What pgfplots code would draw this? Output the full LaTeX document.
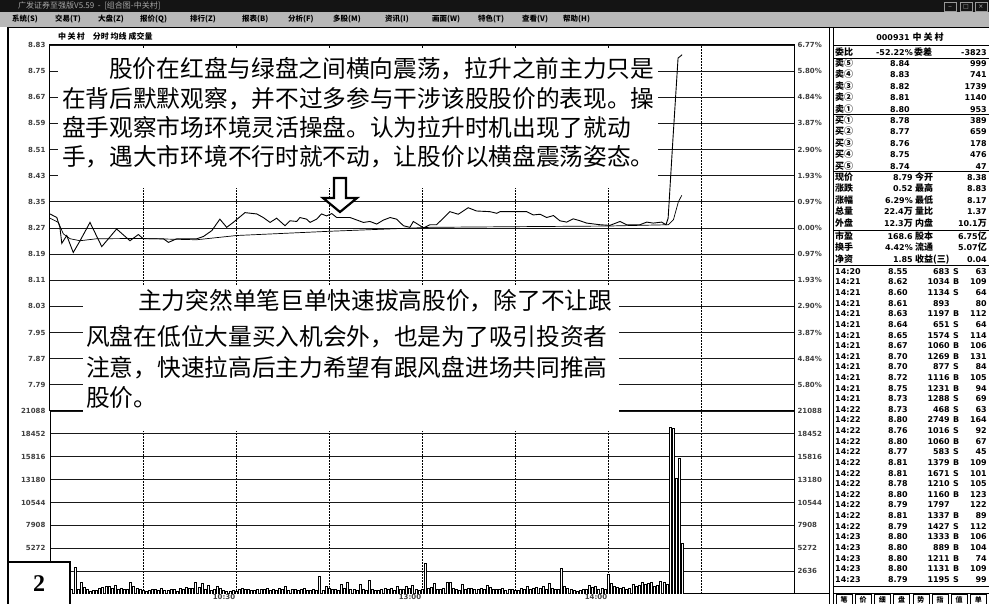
\documentclass[border=0pt]{standalone}
\usepackage{pgfplots}
\pgfplotsset{compat=1.18}
\usepackage{fontspec}
\setmainfont{Liberation Sans}
\newfontfamily\cjk{Noto Sans CJK SC}
\newfontfamily\dv{DejaVu Sans}
\newfontfamily\lserif{Liberation Serif}
\newcommand\lbl{\dv\bfseries\fontsize{7}{8}\selectfont}
\newcommand\cj[1]{{\cjk\bfseries\fontsize{9}{9}\selectfont #1}}
\begin{document}
\begin{tikzpicture}[x=1pt,y=1pt]
\useasboundingbox (0,0) rectangle (989,604);
\fill[white] (0,0) rectangle (989,604);
% ---------------- price panel
\begin{axis}[
  at={(50pt,193pt)}, anchor=south west, scale only axis,
  width=744pt, height=366pt,
  xmin=0, xmax=240, ymin=7.71, ymax=8.83,
  axis line style={line width=1pt, black},
  xtick={30,60,90,120,150,180,210}, xticklabels={},
  ytick={7.79,7.87,7.95,8.03,8.11,8.19,8.27,8.35,8.43,8.51,8.59,8.67,8.75,8.83},
  major tick length=0pt,
  xmajorgrids, ymajorgrids,
  x grid style={black, line width=0.7pt, dash pattern=on 2pt off 1pt},
  y grid style={black!90, line width=0.9pt},
  yticklabel style={font=\lbl, text=black!75, xshift=-1pt,
    /pgf/number format/.cd, fixed, fixed zerofill, precision=2, assume math mode=true},
]
\addplot[black, line width=0.9pt] table {
t p
0 8.313
2.2 8.302
3.2 8.272
3.8 8.223
5.4 8.247
7.5 8.195
9.7 8.231
12.9 8.287
16.7 8.213
21.5 8.267
25.8 8.231
28.5 8.250
30.1 8.237
36.6 8.237
38.2 8.226
40.9 8.237
47.3 8.237
49.5 8.244
52.2 8.262
54.8 8.297
57 8.272
59.1 8.287
62.9 8.317
66.7 8.313
68.8 8.302
71 8.287
73.1 8.300
75.8 8.277
77.4 8.292
79.6 8.290
80.6 8.302
82.8 8.297
83.9 8.287
86 8.297
87.6 8.313
89.2 8.307
90.9 8.314
92.5 8.302
96.8 8.302
101.1 8.287
103.2 8.290
105.4 8.282
107.5 8.294
109.7 8.302
111.8 8.297
114 8.277
116.1 8.272
117.2 8.290
119.4 8.277
120.4 8.270
122.6 8.280
124.7 8.280
127.4 8.305
129 8.320
131.7 8.312
134.9 8.332
137.6 8.322
141.9 8.320
144.1 8.315
145.2 8.320
153.8 8.320
155.9 8.310
158.1 8.312
160.2 8.302
162.4 8.308
164.5 8.292
166.7 8.288
168.8 8.298
171 8.292
173.1 8.285
177.4 8.280
180.6 8.278
183.9 8.290
186 8.280
190.3 8.280
192.5 8.288
194.6 8.285
197.3 8.288
198.7 8.280
199.4 8.300
201 8.550
202.6 8.790
203.9 8.800
};
\addplot[black, line width=0.7pt] table {
t p
0 8.300
2.7 8.287
4.3 8.252
6.5 8.237
9.7 8.231
15 8.237
29 8.238
47.3 8.234
60.2 8.247
90.3 8.260
122.6 8.272
150 8.274
180 8.276
199.5 8.280
201.1 8.295
202.7 8.350
203.8 8.370
};
\end{axis}
% right percent labels
\begin{axis}[
  at={(50pt,193pt)}, anchor=south west, scale only axis,
  width=744pt, height=366pt,
  xmin=0, xmax=240, ymin=7.71, ymax=8.83,
  axis line style={draw=none}, xtick=\empty,
  ytick={7.79,7.87,7.95,8.03,8.11,8.19,8.27,8.35,8.43,8.51,8.59,8.67,8.75,8.83},
  yticklabels={5.80\%,4.84\%,3.87\%,2.90\%,1.93\%,0.97\%,0.00\%,0.97\%,1.93\%,2.90\%,3.87\%,4.84\%,5.80\%,6.77\%},
  yticklabel pos=right, major tick length=0pt,
  yticklabel style={font=\lbl, text=black!75, xshift=0pt},
]
\end{axis}
% ---------------- volume panel
\begin{axis}[
  at={(50pt,10pt)}, anchor=south west, scale only axis,
  width=744pt, height=183pt,
  xmin=0, xmax=240, ymin=0, ymax=21088,
  axis line style={line width=1pt, black},
  xtick={30,60,90,120,150,180,210},
  xticklabels={,10:30,,13:00,,14:00,},
  xticklabel style={font=\lbl, text=black!75, xshift=-12pt, yshift=3pt},
  ytick={2636,5272,7908,10544,13180,15816,18452,21088},
  yticklabels={,5272,7908,10544,13180,15816,18452,21088},
  scaled y ticks=false,
  major tick length=0pt,
  xmajorgrids, ymajorgrids,
  x grid style={black, line width=0.7pt, dash pattern=on 2pt off 1pt},
  y grid style={black!90, line width=0.9pt},
  yticklabel style={font=\lbl, text=black!75, xshift=-1pt},
]
\addplot[ybar, bar width=2pt, fill=white, draw=black, line width=0.5pt] coordinates {
(0,2600) (1,1500) (2,1200) (3,900) (4,1100) (5,800) (6,700) (7,600) (8,3100) (9,500)
(10,1300) (11,800) (12,500) (13,350) (14,400) (15,450) (16,700) (17,800) (18,900) (19,850)
(20,700) (21,1000) (22,600) (23,700) (24,500) (25,600) (26,1400) (27,900) (28,650) (29,500)
(30,450) (31,350) (32,400) (33,550) (34,500) (35,400) (36,650) (37,450) (38,400) (39,600)
(40,500) (41,350) (42,700) (43,500) (44,800) (45,650) (46,700) (47,1400) (48,800) (49,1200)
(50,600) (51,1000) (52,400) (53,550) (54,900) (55,700) (56,400) (57,300) (58,350) (59,400)
(60,300) (61,550) (62,700) (63,600) (64,500) (65,450) (66,400) (67,600) (68,550) (69,500)
(70,700) (71,450) (72,500) (73,400) (74,650) (75,500) (76,900) (77,450) (78,600) (79,550)
(80,400) (81,500) (82,650) (83,450) (84,400) (85,550) (86,450) (87,2000) (88,400) (89,900)
(90,700) (91,500) (92,600) (93,400) (94,1100) (95,700) (96,1300) (97,500) (98,600) (99,450)
(100,1100) (101,500) (102,400) (103,1600) (104,600) (105,450) (106,400) (107,550) (108,650) (109,500)
(110,700) (111,450) (112,850) (113,600) (114,500) (115,900) (116,650) (117,1000) (118,500) (119,450)
(120,600) (121,3500) (122,700) (123,800) (124,1200) (125,600) (126,500) (127,700) (128,1400) (129,1400)
(130,700) (131,500) (132,400) (133,1100) (134,600) (135,700) (136,650) (137,600) (138,500) (139,700)
(140,600) (141,1000) (142,800) (143,600) (144,500) (145,550) (146,650) (147,450) (148,500) (149,600)
(150,400) (151,450) (152,700) (153,500) (154,900) (155,600) (156,650) (157,800) (158,700) (159,900)
(160,600) (161,1200) (162,700) (163,500) (164,600) (165,2950) (166,900) (167,700) (168,500) (169,400)
(170,350) (171,450) (172,600) (173,500) (174,1000) (175,800) (176,900) (177,600) (178,700) (179,500)
(180,2250) (181,1200) (182,900) (183,800) (184,700) (185,750) (186,600) (187,700) (188,1100) (189,900)
(190,1000) (191,1300) (192,1100) (193,1200) (194,1400) (195,900) (196,1000) (197,1500) (198,1300) (199,1100)
(200,19200) (201,19100) (202,13300) (203,15700) (204,5800)
};
\end{axis}
\begin{axis}[
  at={(50pt,10pt)}, anchor=south west, scale only axis,
  width=744pt, height=183pt,
  xmin=0, xmax=240, ymin=0, ymax=21088,
  axis line style={draw=none}, xtick=\empty,
  ytick={2636,5272,7908,10544,13180,15816,18452,21088},
  yticklabels={2636,5272,7908,10544,13180,15816,18452,21088},
  scaled y ticks=false,
  yticklabel pos=right, major tick length=0pt,
  yticklabel style={font=\lbl, text=black!75},
]
\end{axis}
% ---------------- overlays in pixel coordinates (y downward)
\begin{scope}[shift={(0pt,604pt)}, x=1pt, y=-1pt]
% text boxes
\fill[white] (58,48) rectangle (658,188);
\fill[white] (83,285) rectangle (619,431);
\begin{scope}[every node/.style={inner sep=0pt, anchor=base west, font=\cjk\fontsize{23.7}{24}\selectfont}]
\node at (109,78) {股价在红盘与绿盘之间横向震荡，拉升之前主力只是};
\node at (62,108) {在背后默默观察，并不过多参与干涉该股股价的表现。操};
\node at (62,137) {盘手观察市场环境灵活操盘。认为拉升时机出现了就动};
\node at (62,166) {手，遇大市环境不行时就不动，让股价以横盘震荡姿态。};
\node at (138,310) {主力突然单笔巨单快速拔高股价，除了不让跟};
\node at (86,346) {风盘在低位大量买入机会外，也是为了吸引投资者};
\node at (86,377) {注意，快速拉高后主力希望有跟风盘进场共同推高};
\node at (86,407) {股价。};
\end{scope}
% arrow
\draw[line width=2.2pt, fill=white, line join=miter]
  (334,178) -- (346,178) -- (346,198) -- (357,198) -- (340,212) -- (323,198) -- (334,198) -- cycle;
% header
\node[anchor=west, inner sep=0pt, font=\cjk\bfseries\fontsize{8}{8}\selectfont] at (58,36) {中\,关\,村\quad 分时\ 均线\ 成交量};
% title bar and menu
\fill[black!92] (0,0) rectangle (989,12);
\node[anchor=west, inner sep=0pt, text=black!35, font=\cjk\fontsize{8}{8}\selectfont] at (18,6) {广发证券至强版V5.59 \ - \ [组合图-中关村]};
\foreach \bx/\sym in {944/\_,960/□,975/×}{
  \draw[black!40, line width=0.6pt] (\bx,2) rectangle ({\bx+12},11);
  \node[text=black!30, inner sep=0pt, font=\dv\fontsize{6}{6}\selectfont] at ({\bx+6},6.5) {\sym};
}
\fill[black!28] (0,12) rectangle (989,27);
\foreach \mx/\mt in {12/系统(S),55/交易(T),98/大盘(Z),140/报价(Q),190/排行(Z),242/报表(B),288/分析(F),333/多股(M),385/资讯(I),432/画面(W),478/特色(T),522/查看(V),563/帮助(H)}{
  \node[anchor=west, inner sep=0pt, font=\cjk\bfseries\fontsize{7.5}{8}\selectfont] at (\mx,19.5) {\mt};
}
% frame lines
\draw[line width=1.6pt] (8,27) -- (8,604);
\draw[line width=0.8pt] (829,27) -- (829,604);
\draw[line width=0.8pt] (833,27) -- (833,604);
\draw[line width=0.8pt] (8,27.5) -- (989,27.5);
\draw[line width=1pt] (794,594) -- (829,594);
% right panel
\foreach \yy in {45,58,114,171,230,265,586}{\draw[line width=0.8pt] (833,\yy) -- (989,\yy);}
\node[inner sep=0pt, font=\dv\bfseries\fontsize{8}{8}\selectfont] at (910,37) {000931 \cj{中\ 关\ 村}};
\begin{scope}[every node/.style={inner sep=0pt, font=\dv\bfseries\fontsize{8}{9}\selectfont}]
\node[anchor=base west] at (835,56) {\cj{委比}};
\node[anchor=base east] at (913,56) {-52.22\%};
\node[anchor=base west] at (914,56) {\cj{委差}};
\node[anchor=base east] at (987,56) {-3823};
\foreach \lab/\pr/\vo [count=\i from 0] in {卖⑤/8.84/999,卖④/8.83/741,卖③/8.82/1739,卖②/8.81/1140,卖①/8.80/953,买①/8.78/389,买②/8.77/659,买③/8.76/178,买④/8.75/476,买⑤/8.74/47}{
  \node[anchor=base west] at (835,{66.3+\i*11.45}) {\cj{\lab}};
  \node[anchor=base east] at (910,{66.3+\i*11.45}) {\pr};
  \node[anchor=base east] at (987,{66.3+\i*11.45}) {\vo};
}
\foreach \la/\va/\lb/\vb [count=\i from 0] in {现价/8.79/今开/8.38,涨跌/0.52/最高/8.83,涨幅/6.29\%/最低/8.17,总量/22.4\cj{万}/量比/1.37,外盘/12.3\cj{万}/内盘/10.1\cj{万},市盈/168.6/股本/6.75\cj{亿},换手/4.42\%/流通/5.07\cj{亿},净资/1.85/收益(三)/0.04}{
  \pgfmathsetmacro\yr{\i<5 ? 180.3+\i*11.5 : 239.3+(\i-5)*11.5}
  \node[anchor=base west] at (835,\yr) {\cj{\la}};
  \node[anchor=base east] at (913,\yr) {\va};
  \node[anchor=base west] at (915,\yr) {\cj{\lb}};
  \node[anchor=base east] at (987,\yr) {\vb};
}
\foreach \tm/\pr/\vo/\bs/\ct [count=\i from 0] in {
14:20/8.55/683/S/63, 14:21/8.62/1034/B/109, 14:21/8.60/1134/S/64, 14:21/8.61/893/{}/80,
14:21/8.63/1197/B/112, 14:21/8.64/651/S/64, 14:21/8.65/1574/S/114, 14:21/8.67/1060/B/106,
14:21/8.70/1269/B/131, 14:21/8.70/877/S/84, 14:21/8.72/1116/B/105, 14:21/8.75/1231/B/94,
14:21/8.73/1288/S/69, 14:22/8.73/468/S/63, 14:22/8.80/2749/B/164, 14:22/8.76/1016/S/92,
14:22/8.80/1060/B/67, 14:22/8.77/583/S/45, 14:22/8.81/1379/B/109, 14:22/8.81/1671/S/101,
14:22/8.78/1210/S/105, 14:22/8.80/1160/B/123, 14:22/8.79/1797/{}/122, 14:22/8.81/1337/B/89,
14:22/8.79/1427/S/112, 14:23/8.80/1333/B/106, 14:23/8.80/889/B/104, 14:23/8.80/1211/B/74,
14:23/8.80/1131/B/109, 14:23/8.79/1195/S/99}{
  \node[anchor=base west] at (835,{274.3+\i*10.62}) {\tm};
  \node[anchor=base east] at (908,{274.3+\i*10.62}) {\pr};
  \node[anchor=base east] at (950,{274.3+\i*10.62}) {\vo};
  \node[anchor=base west] at (953,{274.3+\i*10.62}) {\bs};
  \node[anchor=base east] at (987,{274.3+\i*10.62}) {\ct};
}
\end{scope}
% bottom buttons
\draw[line width=0.8pt] (833,593) -- (989,593);
\foreach \bt [count=\i from 0] in {笔,价,细,盘,势,指,值,单}{
  \draw[line width=0.6pt] ({836+\i*19.2},594) rectangle ({852+\i*19.2},604);
  \node[inner sep=0pt, font=\cjk\bfseries\fontsize{7}{7}\selectfont] at ({844+\i*19.2},599.5) {\bt};
}
% figure number box
\fill[white] (8,562) rectangle (70,604);
\draw[line width=2pt] (8,562) rectangle (70,606);
\node[font=\lserif\bfseries\fontsize{24}{24}\selectfont, inner sep=0pt] at (39,584) {2};
\end{scope}
\end{tikzpicture}
\end{document}
